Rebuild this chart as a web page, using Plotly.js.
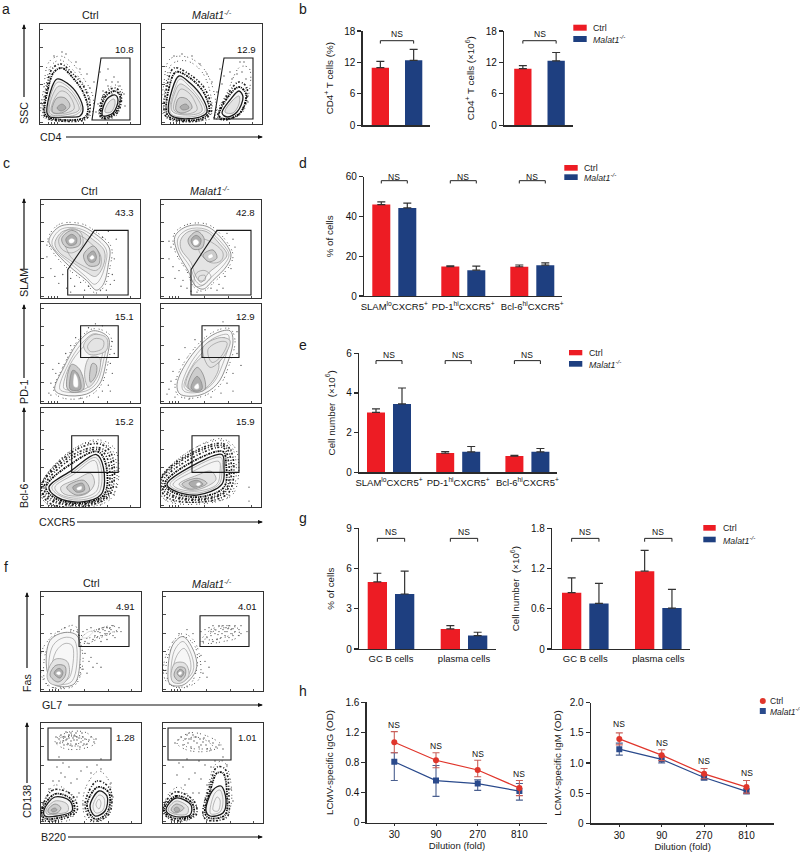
<!DOCTYPE html>
<html><head><meta charset="utf-8">
<script src="https://cdn.plot.ly/plotly-3.0.1.min.js"></script>
<style>html,body{margin:0;padding:0;background:#fff}</style></head>
<body><div id="chart" style="width:800px;height:852px"></div>
<script>
// ---------- values ----------
const groupNames = ['Ctrl', '<i>Malat1<sup>-/-</sup></i>'];
const tfhCats = ['SLAM<sup>lo</sup>CXCR5<sup>+</sup>', 'PD-1<sup>hi</sup>CXCR5<sup>+</sup>', 'Bcl-6<sup>hi</sup>CXCR5<sup>+</sup>'];
const bCellCats = ['GC B cells', 'plasma cells'];
const dilutions = ['30', '90', '270', '810'];

const bPctCtrl = [11.0], bPctCtrlErr = [1.2], bPctKo = [12.4], bPctKoErr = [2.1];
const bNumCtrl = [10.8], bNumCtrlErr = [0.6], bNumKo = [12.3], bNumKoErr = [1.6];
const dCtrl = [46, 14.8, 14.7], dCtrlErr = [1.3, 0.4, 0.9], dKo = [44.3, 13, 15.5], dKoErr = [2.4, 2, 1.2];
const eCtrl = [3.02, 0.97, 0.82], eCtrlErr = [0.18, 0.08, 0.03], eKo = [3.45, 1.03, 1.03], eKoErr = [0.8, 0.27, 0.17];
const gPctCtrl = [5, 1.5], gPctCtrlErr = [0.65, 0.25], gPctKo = [4.1, 1.0], gPctKoErr = [1.7, 0.25];
const gNumCtrl = [0.84, 1.16], gNumCtrlErr = [0.22, 0.31], gNumKo = [0.68, 0.61], gNumKoErr = [0.3, 0.28];

const igGCtrl = [1.07, 0.83, 0.70, 0.46], igGCtrlUp = [0.14, 0.10, 0.13, 0.10], igGCtrlDn = [0.14, 0.10, 0.09, 0.10];
const igGKo = [0.81, 0.56, 0.52, 0.42], igGKoUp = [0.12, 0.20, 0.05, 0.10], igGKoDn = [0.25, 0.21, 0.09, 0.12];
const igGNs = [1.30, 1.02, 0.91, 0.65];
const igMCtrl = [1.40, 1.13, 0.82, 0.60], igMCtrlUp = [0.10, 0.09, 0.09, 0.11], igMCtrlDn = [0.10, 0.09, 0.08, 0.10];
const igMKo = [1.23, 1.06, 0.76, 0.53], igMKoUp = [0.10, 0.06, 0.04, 0.04], igMKoDn = [0.10, 0.06, 0.04, 0.04];
const igMNs = [1.64, 1.34, 1.03, 0.83];

const flowTicksX = [8, 11, 14, 17, 43, 67, 90];
const flowTicksY = [2, 21, 40, 58, 77, 95];

// Flow panels: outlines (x,y in percent of the panel)
const a1Gate = [[61,66],[90,66],[90,4],[52,4]];
const a2Gate = [[62,66],[91,66],[91,5],[52,5]];
const c1Gate = [[54,69],[88,69],[88,3],[27,3],[27,29]];
const c2Gate = [[56,69],[90,69],[90,3],[30,3],[30,29]];
const c3Gate = [[40,78],[78,78],[78,46],[40,46]];
const c4Gate = [[41,78],[78,78],[78,46],[41,46]];
const c5Gate = [[31,72],[78,72],[78,35],[31,35]];
const c6Gate = [[31,72],[78,72],[78,35],[31,35]];
const f1Gate = [[38,76],[88,76],[88,45],[38,45]];
const f2Gate = [[37,76],[86,76],[86,45],[37,45]];
const f3Gate = [[7,95],[70,95],[70,63],[7,63]];
const f4Gate = [[5,95],[68,95],[68,63],[5,63]];

const a1Layers = [
 ['speck',[[3,7],[4,37],[9,62],[20,68],[31,62],[44,45],[53,27],[50,8]]],
 ['speck',[[4,9],[6,38],[11,58],[20,64],[29,58],[42,42],[50,25],[47,8]]],
 ['dense',[[4,9],[7,37],[12,55],[21,60],[31,52],[44,37],[50,18],[46,5],[9,5]]],
 ['rim',[[5,10],[8,35],[14,52],[22,56],[33,46],[43,32],[48,14],[44,6],[10,6]]],
 ['body',[[7,11],[12,37],[17,45],[27,41],[38,29],[43,14],[40,8],[27,7],[10,7]]],
 ['line',[[8,12],[13,35],[18,42],[27,38],[37,26],[41,14],[35,9],[11,8]]],
 ['ring',[[9,13],[14,32],[19,38],[27,35],[36,24],[39,14],[30,10],[12,9]]],
 ['line',[[11,14],[16,28],[21,33],[27,31],[33,22],[34,15],[26,11],[13,11]]],
 ['mid',[[12,14],[17,26],[25,26],[30,18],[24,12],[14,11]]],
 ['core',[[17,16],[22,20],[26,16],[21,13]]],
 ['speck',[[60,7],[63,29],[75,39],[82,34],[80,21],[75,7]]],
 ['dense',[[60,8],[64,29],[75,36],[81,30],[78,12],[64,5]]],
 ['rim',[[61,9],[65,27],[75,33],[80,28],[76,12],[64,6]]],
 ['body',[[62,11],[67,25],[75,29],[78,24],[73,11],[63,8]]],
 ['ring',[[65,12],[69,22],[74,25],[75,20],[71,12]]]
];
const a1Dots = [[63,33],[68,38],[72,42],[78,42],[84,30],[58,20],[56,12],[66,44],[80,38],[74,47],[50,36],[54,42],[47,50],[40,55],[36,62],[22,72],[14,68],[26,70],[60,52],[68,55],[72,30],[85,18]];
const a2Layers = [
 ['speck',[[2,9],[2,41],[8,65],[25,67],[42,55],[53,27],[52,7]]],
 ['speck',[[4,10],[4,40],[10,60],[25,63],[40,52],[49,27],[48,8]]],
 ['dense',[[3,9],[5,38],[12,56],[27,50],[43,35],[49,12],[40,4],[10,4]]],
 ['rim',[[5,10],[7,36],[14,52],[28,46],[42,31],[47,12],[38,5],[12,5]]],
 ['body',[[7,11],[10,34],[17,48],[28,41],[40,27],[45,12],[38,7],[15,6]]],
 ['line',[[8,12],[12,33],[18,45],[27,38],[38,25],[43,13],[34,8],[13,8]]],
 ['ring',[[10,13],[13,32],[18,40],[27,35],[37,23],[40,13],[28,9]]],
 ['line',[[12,14],[15,29],[19,35],[27,31],[33,22],[35,14],[24,10]]],
 ['mid',[[14,14],[17,26],[25,25],[30,16],[20,11]]],
 ['core',[[18,17],[24,20],[27,16],[21,14]]],
 ['speck',[[53,6],[65,31],[78,57],[87,56],[87,31],[78,9]]],
 ['dense',[[56,7],[66,30],[77,42],[85,36],[79,12],[63,4]]],
 ['rim',[[57,8],[66,27],[77,37],[84,30],[78,11],[64,5]]],
 ['body',[[60,11],[68,24],[77,33],[81,27],[75,12],[65,7]]],
 ['ring',[[63,12],[70,23],[77,28],[77,20],[71,11]]]
];
const a2Dots = [[70,45],[75,50],[80,52],[84,45],[60,40],[55,32],[50,42],[45,50],[38,60],[30,68],[20,70],[12,68],[84,36],[68,52],[78,62],[82,62],[62,48],[58,55],[86,22]];
const c1Layers = [
 ['speck',[[7,60],[18,75],[40,76],[55,68],[71,52],[70,33],[64,12],[55,5],[45,16],[27,30],[12,47]]],
 ['soft',[[8,59],[19,73],[39,74],[54,66],[69,51],[68,34],[63,14],[56,8],[46,18],[28,33],[13,49]]],
 ['line',[[11,57],[20,70],[38,71],[53,63],[66,49],[65,34],[59,18],[54,14],[45,22],[29,36],[15,48]]],
 ['ring',[[14,56],[22,68],[38,69],[52,60],[64,48],[63,33],[55,22],[45,27],[30,38],[18,47]]],
 ['line',[[30,42],[44,32],[55,28],[60,32],[60,44],[50,56],[38,64],[24,62]]],
 ['line',[[18,60],[30,71],[40,67],[42,54],[31,46],[21,50]]],
 ['mid',[[21,61],[31,69],[39,64],[39,54],[29,51],[23,54]]],
 ['core',[[25,60],[31,65],[36,61],[35,55],[28,54]]],
 ['hot',[[28,59],[31,61],[34,59],[32,56],[29,56]]],
 ['mid',[[43,44],[53,53],[59,44],[58,34],[48,33]]],
 ['core',[[47,43],[53,48],[56,42],[54,37],[49,37]]],
 ['hot',[[49,41],[52,44],[54,41],[51,39]]]
];
const c1Dots = [[6,42],[10,30],[14,22],[18,15],[22,24],[30,20],[34,12],[38,28],[44,8],[48,12],[26,10],[60,8],[66,8],[72,24],[74,40],[76,60],[62,62],[68,68],[10,58],[6,54],[70,14],[74,18],[30,6],[40,16],[52,14]];
const c2Layers = [
 ['speck',[[13,65],[26,75],[47,75],[63,61],[72,44],[68,32],[53,16],[42,7],[33,11],[26,27],[14,48]]],
 ['soft',[[14,63],[26,73],[46,73],[62,59],[70,44],[66,33],[52,18],[42,9],[34,13],[27,28],[16,48]]],
 ['line',[[17,61],[27,70],[45,70],[60,57],[68,44],[63,34],[50,21],[41,13],[35,17],[29,32],[18,49]]],
 ['ring',[[20,60],[28,68],[45,68],[58,56],[66,44],[60,36],[48,26],[40,16],[34,24],[30,36],[20,50]]],
 ['line',[[34,12],[42,13],[50,22],[44,28],[36,26],[33,18]]],
 ['line',[[38,18],[44,18],[44,23],[38,22]]],
 ['line',[[38,48],[50,36],[60,38],[62,46],[52,56],[40,60]]],
 ['mid',[[27,59],[36,68],[43,61],[41,51],[32,50]]],
 ['core',[[30,59],[35,64],[40,60],[38,53],[33,53]]],
 ['hot',[[32,58],[35,60],[38,57],[36,54],[33,54]]],
 ['mid',[[42,44],[52,49],[56,41],[48,37]]],
 ['hot',[[47,43],[51,45],[52,42],[48,40]]]
];
const c2Dots = [[10,52],[8,40],[12,32],[18,28],[22,18],[26,10],[30,7],[50,10],[58,14],[64,22],[70,30],[74,52],[72,60],[66,66],[14,20],[20,12],[56,8],[8,58],[62,10],[36,6]];
const c3Layers = [
 ['speck',[[13,12],[22,36],[38,64],[53,75],[70,68],[68,42],[60,17],[46,6],[22,5]]],
 ['soft',[[14,13],[23,36],[39,63],[53,73],[68,66],[66,43],[59,19],[46,9],[23,8]]],
 ['line',[[19,14],[27,38],[41,60],[54,70],[65,63],[63,42],[56,20],[45,12],[26,11]]],
 ['line',[[23,15],[29,38],[42,56],[54,66],[62,61],[60,40],[53,22],[44,14],[28,13]]],
 ['mid',[[26,16],[31,39],[39,34],[43,14],[31,11]]],
 ['core',[[29,15],[32,33],[37,30],[40,14],[31,13]]],
 ['hot',[[33,17],[34,30],[37,25],[37,16]]],
 ['ring',[[44,29],[49,46],[59,46],[58,29],[48,16]]],
 ['mid',[[49,27],[52,40],[56,38],[55,27],[50,21]]],
 ['ring',[[43,58],[53,69],[66,66],[66,53],[49,49]]],
 ['line',[[47,57],[54,65],[63,63],[62,55],[50,52]]]
];
const c3Dots = [[10,20],[8,10],[15,30],[18,40],[25,50],[30,58],[35,66],[70,40],[72,30],[68,18],[62,12],[74,50],[72,62],[55,80],[62,78],[48,76],[10,8],[58,6],[70,12],[40,5],[12,34]];
const c4Layers = [
 ['speck',[[14,18],[27,47],[51,71],[69,75],[74,63],[68,38],[58,17],[39,6],[18,7]]],
 ['soft',[[16,19],[29,46],[52,69],[69,73],[72,63],[66,39],[56,19],[39,8],[19,9]]],
 ['line',[[21,18],[32,44],[52,65],[67,69],[68,61],[62,40],[52,20],[38,11],[23,12]]],
 ['line',[[23,17],[34,42],[52,60],[64,66],[65,58],[58,40],[50,22],[38,12],[26,13]]],
 ['ring',[[25,17],[34,40],[50,50],[58,38],[50,20],[38,12]]],
 ['mid',[[27,16],[36,36],[42,29],[44,14],[36,11]]],
 ['core',[[30,15],[36,27],[40,22],[41,14],[35,12]]],
 ['hot',[[33,16],[37,20],[38,15],[35,14]]],
 ['ring',[[42,56],[59,66],[69,63],[62,46],[49,36]]],
 ['line',[[47,54],[59,62],[66,61],[60,47],[51,41]]]
];
const c4Dots = [[10,22],[8,14],[12,32],[18,44],[24,56],[34,64],[44,74],[62,82],[76,72],[76,50],[72,30],[66,20],[60,10],[50,6],[14,6],[28,4],[72,12],[80,38],[6,9]];
const c5Layers = [
 ['speck',[[-1,20],[30,57],[58,66],[73,56],[72,10],[41,-1],[6,3]]],
 ['speck',[[1,24],[28,55],[57,68],[75,58],[74,14],[44,1],[4,5]]],
 ['dense',[[1,22],[29,54],[58,64],[71,54],[70,13],[41,0],[7,5]]],
 ['dense',[[0,20],[31,52],[58,60],[69,52],[68,13],[41,2],[9,7]]],
 ['dense',[[3,20],[31,49],[58,58],[67,49],[66,13],[40,3],[11,8]]],
 ['rim',[[5,20],[31,44],[57,56],[65,45],[64,13],[40,4],[14,9]]],
 ['body',[[8,20],[31,37],[56,53],[63,40],[61,13],[39,5],[16,10]]],
 ['line',[[11,20],[32,35],[55,50],[61,38],[58,14],[38,7],[18,12]]],
 ['line',[[14,20],[33,33],[54,47],[58,36],[56,16],[38,9],[19,13]]],
 ['ring',[[20,20],[36,28],[50,34],[54,24],[47,14],[35,11],[22,14]]],
 ['mid',[[26,20],[43,27],[49,17],[36,12]]],
 ['core',[[32,20],[42,24],[44,17],[36,15]]],
 ['hot',[[36,19],[41,21],[41,18],[37,17]]]
];
const c5Dots = [[6,32],[12,36],[20,44],[26,50],[38,60],[48,64],[70,60],[72,40],[72,25],[74,12],[60,2],[30,1],[3,10],[76,20],[66,62]];
const c6Layers = [
 ['speck',[[-1,27],[29,57],[62,67],[73,56],[70,13],[39,3],[3,8]]],
 ['speck',[[1,30],[28,56],[60,69],[75,58],[72,13],[42,5],[1,10]]],
 ['dense',[[0,29],[29,54],[62,64],[71,54],[68,15],[39,5],[4,11]]],
 ['dense',[[0,27],[29,52],[62,62],[69,52],[66,17],[39,7],[6,13]]],
 ['dense',[[2,26],[30,49],[62,60],[67,49],[65,18],[38,8],[8,14]]],
 ['rim',[[4,24],[30,45],[62,56],[65,44],[63,20],[37,10],[10,16]]],
 ['body',[[6,23],[32,42],[61,53],[63,40],[61,23],[36,12],[12,17]]],
 ['line',[[9,23],[33,40],[60,50],[61,38],[58,23],[36,14],[14,18]]],
 ['line',[[12,23],[34,37],[58,46],[59,36],[56,23],[36,16],[16,19]]],
 ['ring',[[18,23],[36,32],[50,36],[55,28],[44,20],[30,17]]],
 ['mid',[[21,23],[36,29],[46,24],[30,18]]],
 ['core',[[28,24],[36,27],[42,23],[32,20]]],
 ['hot',[[35,23],[38,25],[40,23],[37,21]]]
];
const c6Dots = [[4,34],[10,38],[18,44],[24,50],[34,56],[48,62],[70,58],[72,42],[72,24],[68,12],[50,6],[22,9],[2,18],[88,20],[88,6]];
const f1Layers = [
 ['speck',[[0,38],[8,52],[20,62],[34,66],[38,54],[42,30],[34,6],[14,3],[2,12]]],
 ['speck',[[3,30],[9,48],[22,58],[36,60],[38,40],[38,14],[24,4],[6,6]]],
 ['speck',[[22,58],[40,56],[56,62],[72,66],[76,62],[60,54],[44,48],[34,52]]],
 ['speck',[[38,52],[50,60],[66,64],[72,60],[62,56],[50,54]]],
 ['soft',[[6,21],[9,51],[23,59],[36,56],[39,31],[33,7],[14,6]]],
 ['line',[[8,20],[12,46],[23,54],[33,52],[36,30],[30,9],[14,8]]],
 ['line',[[11,20],[15,40],[24,48],[31,46],[32,28],[27,12],[15,10]]],
 ['ring',[[6,16],[14,32],[26,30],[28,16],[20,6],[9,8]]],
 ['mid',[[9,16],[15,26],[24,25],[24,15],[17,9]]],
 ['core',[[13,18],[18,23],[22,19],[19,13]]],
 ['hot',[[15,18],[18,20],[20,18],[18,16]]],
 ['hot',[[41,54],[48,60],[52,60],[46,54]]]
];
const f1Dots = [[40,52],[44,50],[48,48],[52,52],[56,54],[60,56],[64,58],[68,60],[70,62],[54,60],[58,62],[62,62],[66,64],[72,56],[76,60],[78,64],[50,64],[46,62],[42,60],[60,50],[66,52],[72,66],[80,60],[74,54],[36,60],[30,62],[24,64],[18,60],[14,56],[10,58],[44,38],[48,30],[52,24],[46,18],[42,22],[50,34],[56,28],[60,24],[62,64],[64,61],[57,60],[69,64],[66,58],[59,59],[54,56]];
const f2Layers = [
 ['speck',[[1,28],[10,50],[20,58],[30,52],[36,38],[36,12],[18,3],[3,10]]],
 ['speck',[[3,24],[9,44],[20,55],[32,45],[34,24],[26,6],[8,6]]],
 ['speck',[[38,50],[48,62],[66,66],[76,62],[74,54],[60,50],[46,48]]],
 ['speck',[[42,52],[50,60],[64,64],[72,60],[64,55],[50,52]]],
 ['soft',[[5,21],[10,47],[20,55],[32,37],[33,21],[20,6],[7,7]]],
 ['line',[[8,20],[12,42],[20,50],[29,35],[30,20],[19,9],[10,10]]],
 ['line',[[10,20],[14,36],[21,43],[27,32],[27,19],[18,11],[12,12]]],
 ['ring',[[8,16],[12,28],[22,28],[26,16],[18,8],[10,9]]],
 ['mid',[[11,16],[15,24],[22,23],[22,15],[16,10]]],
 ['core',[[14,18],[17,22],[21,19],[18,14]]],
 ['hot',[[15,18],[18,20],[19,18],[17,16]]]
];
const f2Dots = [[40,50],[44,54],[48,56],[52,58],[56,60],[60,62],[64,60],[68,62],[72,60],[76,62],[50,50],[54,52],[58,54],[62,56],[66,54],[70,56],[42,62],[46,64],[50,66],[56,66],[60,66],[66,66],[72,66],[76,56],[78,66],[38,60],[30,58],[24,62],[16,58],[38,36],[42,30],[46,24],[40,18],[44,14],[62,60],[65,63],[59,58],[55,57],[68,58],[63,64],[70,63],[48,60],[52,62],[78,58],[84,60]];
const f3Layers = [
 ['speck',[[14,82],[28,91],[46,90],[54,80],[40,74],[22,75]]],
 ['speck',[[18,84],[30,88],[42,86],[48,80],[36,77],[24,79]]],
 ['speck',[[22,84],[32,87],[42,83],[36,79],[26,80]]],
 ['speck',[[1,10],[4,24],[14,38],[28,30],[34,18],[30,4],[12,2]]],
 ['speck',[[42,24],[48,42],[58,52],[68,42],[70,18],[62,3],[46,3]]],
 ['dense',[[0,11],[12,33],[31,28],[36,12],[18,3],[2,3]]],
 ['dense',[[44,18],[56,42],[69,34],[68,9],[52,2]]],
 ['rim',[[1,12],[14,29],[30,24],[33,12],[17,5],[3,5]]],
 ['rim',[[46,18],[57,36],[68,30],[66,10],[54,4]]],
 ['body',[[3,13],[14,26],[29,22],[31,12],[16,7],[4,7]]],
 ['ring',[[5,13],[14,22],[26,19],[27,12],[16,9],[6,9]]],
 ['mid',[[7,13],[14,19],[20,15],[16,10],[8,10]]],
 ['core',[[10,13],[14,15],[16,13],[12,11]]],
 ['body',[[49,17],[58,32],[66,27],[64,12],[54,7]]],
 ['line',[[52,17],[58,28],[63,25],[62,13],[55,10]]],
 ['line',[[55,18],[58,24],[60,20],[58,14]]]
];
const f3Dots = [[15,86],[18,84],[20,88],[22,82],[24,86],[26,84],[28,88],[30,82],[32,85],[34,87],[36,83],[38,85],[40,81],[42,86],[44,84],[46,79],[48,83],[50,86],[19,80],[23,78],[27,79],[31,77],[35,79],[39,76],[43,79],[30,90],[25,91],[35,90],[41,90],[16,80],[53,81],[55,84],[22,86],[28,85],[33,83],[36,86],[25,83],[18,42],[20,50],[16,56],[24,46],[22,60],[30,40],[36,44],[40,52],[46,56],[50,50],[56,58],[60,54],[38,30],[42,18],[36,26],[18,66],[60,64],[28,56],[70,40],[72,26],[12,42],[8,34]];
const f4Layers = [
 ['speck',[[14,80],[26,90],[44,87],[58,78],[46,72],[24,73]]],
 ['speck',[[20,82],[32,86],[44,82],[50,76],[36,74],[24,76]]],
 ['speck',[[1,12],[5,28],[16,36],[28,24],[34,14],[26,3],[8,3]]],
 ['speck',[[40,8],[46,40],[52,58],[60,62],[66,50],[68,18],[60,4],[44,3]]],
 ['dense',[[0,12],[12,31],[31,22],[33,8],[10,3]]],
 ['dense',[[40,9],[47,38],[54,56],[62,54],[66,26],[64,6],[44,3]]],
 ['rim',[[1,13],[13,27],[29,20],[30,8],[10,5]]],
 ['rim',[[42,10],[48,35],[54,50],[60,50],[64,28],[62,8],[46,5]]],
 ['body',[[3,13],[13,25],[28,18],[27,8],[10,7]]],
 ['ring',[[5,13],[13,22],[25,16],[24,9],[11,9]]],
 ['mid',[[8,13],[13,19],[21,15],[13,10]]],
 ['core',[[11,14],[14,16],[17,13],[13,11]]],
 ['body',[[43,12],[50,33],[58,37],[63,23],[60,10],[47,7]]],
 ['line',[[47,12],[52,30],[57,33],[60,22],[57,11],[48,9]]],
 ['line',[[50,13],[54,26],[57,23],[55,12]]]
];
const f4Dots = [[15,83],[18,86],[22,84],[25,80],[28,84],[31,82],[34,80],[37,84],[40,81],[43,78],[46,82],[50,80],[53,76],[56,78],[24,88],[30,88],[36,76],[20,78],[28,76],[44,74],[48,73],[60,74],[12,80],[33,86],[38,78],[41,85],[26,84],[14,48],[20,56],[26,44],[32,50],[38,44],[44,38],[22,38],[30,30],[36,30],[16,60],[42,58],[48,56],[36,62],[60,66],[64,58],[66,44],[68,34],[70,22],[24,64],[52,62]];

// ---------- page geometry (pixels, page is 800x852, margins are zero) ----------
const W = 800, H = 852;
const fx = v => v / W, fy = v => 1 - v / H;
const RED = '#ed1c24', BLUE = '#1e3f80', DARK = '#2b2b2b';
const FONT = 'Liberation Sans, Arial, sans-serif';
const traces = [], shapes = [], annotations = [];
const layout = {width: W, height: H, margin: {l: 0, r: 0, t: 0, b: 0}, showlegend: false, barmode: 'overlay',
  paper_bgcolor: '#fff', plot_bgcolor: 'rgba(0,0,0,0)', font: {family: FONT, size: 10, color: '#1a1a1a'}};

const ax = n => n === 1 ? ['x', 'y', 'xaxis', 'yaxis'] : ['x' + n, 'y' + n, 'xaxis' + n, 'yaxis' + n];
const txt = (x, y, text, size, extra) => annotations.push(Object.assign({xref: 'paper', yref: 'paper', x: fx(x), y: fy(y), text, showarrow: false, font: {size: size || 10}, xanchor: 'center', yanchor: 'middle'}, extra || {}));
function arrow(x0, y0, x1, y1) {
  shapes.push({type: 'line', xref: 'paper', yref: 'paper', x0: fx(x0), y0: fy(y0), x1: fx(x1), y1: fy(y1), line: {color: '#111', width: 1.2}});
  const vertical = x0 === x1;
  const pts = vertical ? [[x1, y1 - 1], [x1 - 2, y1 + 4], [x1 + 2, y1 + 4]] : [[x1 + 1, y1], [x1 - 4, y1 - 2], [x1 - 4, y1 + 2]];
  shapes.push({type: 'path', xref: 'paper', yref: 'paper', path: 'M' + pts.map(p => fx(p[0]) + ' ' + fy(p[1])).join(' L') + ' Z', fillcolor: '#111', line: {width: 0}});
}

// ---------- flow panels ----------
const layerStyle = {
  speck: {line: {color: '#555', width: 1, dash: '1px,2px,1px,4px'}},
  dense: {line: {color: '#222', width: 1.6, dash: '1px,1.5px,2px,2px'}},
  rim:   {line: {color: '#0a0a0a', width: 1.8, dash: '2px,0.8px,1px,1px'}},
  body:  {fill: '#f4f4f4', line: {color: '#1a1a1a', width: 1.3}},
  soft:  {fill: '#f7f7f7', line: {color: '#777', width: 0.8}},
  ring:  {fill: '#e4e4e4', line: {color: '#929292', width: 0.7}},
  mid:   {fill: '#cdcdcd', line: {color: '#7c7c7c', width: 0.7}},
  core:  {fill: '#adadad', line: {color: '#7c7c7c', width: 0.6}},
  hot:   {fill: '#ffffff', line: {color: '#bbb', width: 0.5}},
  line:  {line: {color: '#8d8d8d', width: 0.6}}
};
function flowPanel(n, l, t, r, b, layers, dots, gate, label) {
  const [xr, yr, xk, yk] = ax(n);
  const axBase = {range: [0, 100], showline: true, mirror: true, linecolor: '#333', linewidth: 1.2, showgrid: false, zeroline: false, ticks: 'inside', ticklen: 2.5, tickwidth: 0.8, tickcolor: '#222', showticklabels: false, fixedrange: true};
  layout[xk] = Object.assign({}, axBase, {domain: [fx(l), fx(r)], anchor: yr, tickvals: flowTicksX});
  layout[yk] = Object.assign({}, axBase, {domain: [fy(b), fy(t)], anchor: xr, tickvals: flowTicksY});
  traces.push({type: 'scatter', mode: 'markers', x: dots.map(p => p[0]), y: dots.map(p => p[1]), xaxis: xr, yaxis: yr, marker: {size: 1.3, color: '#444'}, hoverinfo: 'skip'});
  layers.forEach(([kind, pts]) => {
    const st = layerStyle[kind], closed = pts.concat([pts[0]]);
    traces.push({type: 'scatter', mode: 'lines', x: closed.map(p => p[0]), y: closed.map(p => p[1]), xaxis: xr, yaxis: yr, hoverinfo: 'skip',
      line: Object.assign({shape: 'spline', smoothing: 1}, st.line), fill: st.fill ? 'toself' : 'none', fillcolor: st.fill});
  });
  shapes.push({type: 'path', xref: xr, yref: yr, path: 'M' + gate.map(p => p[0] + ' ' + p[1]).join(' L') + ' Z', line: {color: '#1a1a1a', width: 1.1}});
  annotations.push({xref: xr, yref: yr, x: 84, y: label[1], text: label[0], showarrow: false, font: {size: 9.6, color: '#111'}});
}
flowPanel(1, 40, 24, 140, 124, a1Layers, a1Dots, a1Gate, ['10.8', 74]);
flowPanel(2, 162, 24, 262, 124, a2Layers, a2Dots, a2Gate, ['12.9', 74]);
flowPanel(3, 41, 200, 140, 298, c1Layers, c1Dots, c1Gate, ['43.3', 87]);
flowPanel(4, 161, 200, 261, 298, c2Layers, c2Dots, c2Gate, ['42.8', 87]);
flowPanel(5, 41, 304, 140, 403, c3Layers, c3Dots, c3Gate, ['15.1', 87]);
flowPanel(6, 161, 304, 261, 403, c4Layers, c4Dots, c4Gate, ['12.9', 87]);
flowPanel(7, 41, 408, 140, 507, c5Layers, c5Dots, c5Gate, ['15.2', 86]);
flowPanel(8, 161, 408, 261, 507, c6Layers, c6Dots, c6Gate, ['15.9', 86]);
flowPanel(9, 41, 592, 141, 691, f1Layers, f1Dots, f1Gate, ['4.91', 85]);
flowPanel(10, 163, 592, 263, 691, f2Layers, f2Dots, f2Gate, ['4.01', 85]);
flowPanel(11, 41, 723, 141, 823, f3Layers, f3Dots, f3Gate, ['1.28', 86]);
flowPanel(12, 163, 723, 263, 823, f4Layers, f4Dots, f4Gate, ['1.01', 86]);

// column titles and flow axis labels
[[90, 212, 15], [89, 210, 191], [91, 212, 583]].forEach(([a, b, y]) => { txt(a, y, groupNames[0], 10.7); txt(b, y, groupNames[1], 10.7); });
[['SSC', 24, 113, 97, 25], ['SLAM', 24, 283, 269, 199], ['PD-1', 24, 392, 378, 305], ['Bcl-6', 24, 496, 482, 408], ['Fas', 27, 683, 668, 593], ['CD138', 27, 802, 783, 723]].forEach(([t, x, y, a0, a1]) => {
  txt(x, y, t, 10.7, {textangle: -90}); arrow(x, a0, x, a1);
});
[['CD4', 50, 137, 66], ['CXCR5', 57, 522, 77], ['GL7', 52, 705, 68], ['B220', 53, 837, 68]].forEach(([t, x, y, a0]) => {
  txt(x, y, t, 10.7); arrow(a0, y, 262, y);
});

// panel letters
[['a', 6, 9], ['b', 303, 9], ['c', 6, 163], ['d', 303, 163], ['e', 303, 345], ['f', 6, 567], ['g', 303, 518], ['h', 303, 691]].forEach(([t, x, y]) => txt(x, y, t, 14));

// ---------- bar panels ----------
function yAxisFor(n, zero, top, range, tickvals, ticktext, title, standoff) {
  const [xr, yr, xk, yk] = ax(n);
  layout[yk] = {domain: [fy(zero), fy(top)], range, anchor: xr, tickvals, ticktext, showline: true, linecolor: DARK, linewidth: 1.4, ticks: 'outside', ticklen: 4, tickwidth: 1.2, tickcolor: DARK, showgrid: false, zeroline: false, tickfont: {size: 10, color: '#111'}, fixedrange: true,
    title: {text: title, font: {size: 9.8}, standoff}};
}
function barPanel(n, g, cats, ctrl, ctrlErr, ko, koErr, range, tickvals, ticktext, title, standoff, br, labelStandoff) {
  const [xr, yr, xk] = ax(n);
  const xs = ctrl.map((_, i) => i);
  layout[xk] = {domain: [fx(g.left), fx(g.right)], range: [(g.left - g.c0) / g.U, (g.right - g.c0) / g.U], anchor: yr, tickvals: xs, ticktext: cats, showline: true, linecolor: DARK, linewidth: 1.4, ticks: '', showgrid: false, zeroline: false, tickangle: 0, showticklabels: !!cats, ticklabelstandoff: labelStandoff || 0, tickfont: {size: 9.5, color: '#111'}, fixedrange: true};
  yAxisFor(n, g.zero, g.top, range, tickvals, ticktext, title, standoff);
  const sep = g.sep / g.U, w = g.w / g.U;
  [[ctrl, ctrlErr, RED, -sep / 2, groupNames[0]], [ko, koErr, BLUE, sep / 2, 'Malat1-/-']].forEach(([vals, err, col, off, name]) => {
    traces.push({type: 'bar', name, x: xs, y: vals, xaxis: xr, yaxis: yr, width: w, offset: off - w / 2, marker: {color: col, line: {width: 0}},
      error_y: {type: 'data', symmetric: false, array: err, arrayminus: err.map(() => 0), color: '#333', thickness: 1.2, width: 4}});
  });
  xs.forEach(i => {
    const a = i - sep / 2, b = i + sep / 2;
    shapes.push({type: 'path', xref: xr, yref: yr, path: `M${a} ${br[1]} L${a} ${br[0]} L${b} ${br[0]} L${b} ${br[1]}`, line: {color: '#222', width: 1}});
    annotations.push({xref: xr, yref: yr, x: i, y: br[2], text: 'NS', showarrow: false, font: {size: 8.5, color: '#111'}});
  });
}
function swatchLegend(x0, x1, y1a, y1b, y2a, y2b, tx) {
  shapes.push({type: 'rect', xref: 'paper', yref: 'paper', x0: fx(x0), x1: fx(x1), y0: fy(y1b), y1: fy(y1a), fillcolor: RED, line: {width: 0}});
  shapes.push({type: 'rect', xref: 'paper', yref: 'paper', x0: fx(x0), x1: fx(x1), y0: fy(y2b), y1: fy(y2a), fillcolor: BLUE, line: {width: 0}});
  txt(tx, (y1a + y1b) / 2, groupNames[0], 8.8, {xanchor: 'left'});
  txt(tx, (y2a + y2b) / 2, groupNames[1], 8.8, {xanchor: 'left'});
}
barPanel(13, {left: 362.7, right: 430, zero: 125.3, top: 31, c0: 397, U: 66.6, sep: 33.3, w: 17.3}, null, bPctCtrl, bPctCtrlErr, bPctKo, bPctKoErr, [0, 18], [0, 6, 12, 18], ['0', '6', '12', '18'], 'CD4<sup>+</sup> T cells (%)', 8, [16.15, 15.6, 17.5]);
barPanel(14, {left: 504.3, right: 573, zero: 125.3, top: 31, c0: 539.5, U: 66.6, sep: 33.3, w: 17.3}, null, bNumCtrl, bNumCtrlErr, bNumKo, bNumKoErr, [0, 18], [0, 6, 12, 18], ['0', '6', '12', '18'], 'CD4<sup>+</sup> T cells (×10<sup>6</sup>)', 9, [16.15, 15.6, 17.5]);
swatchLegend(573.3, 586.7, 24.7, 30.7, 36, 42, 591);
barPanel(15, {left: 364.3, right: 562.3, zero: 296, top: 176.7, c0: 394.3, U: 69, sep: 26, w: 18}, tfhCats, dCtrl, dCtrlErr, dKo, dKoErr, [0, 60], [0, 20, 40, 60], ['0', '20', '40', '60'], '% of cells', 10, [58, 56.6, 60], 1);
swatchLegend(564.3, 577.7, 165, 170.7, 174.3, 180, 581.7);
barPanel(16, {left: 359.3, right: 557.3, zero: 472.3, top: 353.3, c0: 389, U: 69.2, sep: 26, w: 18}, tfhCats, eCtrl, eCtrlErr, eKo, eKoErr, [0, 6], [0, 2, 4, 6], ['0', '2', '4', '6'], 'Cell number  (×10<sup>6</sup>)', 9, [5.63, 5.46, 5.9], 1);
swatchLegend(569, 582.3, 350, 355.3, 361, 366.7, 586.7);
barPanel(17, {left: 359.3, right: 496, zero: 649, top: 528.3, c0: 391, U: 73, sep: 27.3, w: 19.3}, bCellCats, gPctCtrl, gPctCtrlErr, gPctKo, gPctKoErr, [0, 9], [0, 3, 6, 9], ['0', '3', '6', '9'], '% of cells', 10, [8.25, 8.0, 8.7]);
barPanel(18, {left: 552.3, right: 690, zero: 649, top: 528.3, c0: 585.3, U: 73, sep: 27.3, w: 19.3}, bCellCats, gNumCtrl, gNumCtrlErr, gNumKo, gNumKoErr, [0, 1.8], [0, 0.6, 1.2, 1.8], ['0', '0.6', '1.2', '1.8'], 'Cell number  (×10<sup>6</sup>)', 9, [1.65, 1.6, 1.74]);
swatchLegend(703.3, 715.7, 525, 530.7, 536.7, 542.3, 720.7);

// ---------- ELISA line panels ----------
function linePanel(n, g, ctrl, cUp, cDn, ko, kUp, kDn, ns, range, tickvals, ticktext, title, standoff) {
  const [xr, yr, xk] = ax(n);
  const xs = dilutions.map((_, i) => i);
  layout[xk] = {domain: [fx(g.left), fx(g.right)], range: [(g.left - g.c0) / g.U, (g.right - g.c0) / g.U], anchor: yr, tickvals: xs, ticktext: dilutions, showline: true, linecolor: DARK, linewidth: 1.4, ticks: 'outside', ticklen: 2, tickwidth: 1, tickcolor: DARK, showgrid: false, zeroline: false, tickangle: 0, tickfont: {size: 10, color: '#111'}, fixedrange: true,
    title: {text: 'Dilution (fold)', font: {size: 9.6}, standoff: 3}};
  yAxisFor(n, g.zero, g.top, range, tickvals, ticktext, title, standoff);
  [[ko, kUp, kDn, '#2a4a8c', 'square', '#4a5f8f', 'Malat1-/-'], [ctrl, cUp, cDn, '#e0352b', 'circle', '#c9605a', 'Ctrl']].forEach(([v, up, dn, col, sym, ecol, name]) => {
    traces.push({type: 'scatter', mode: 'lines+markers', name, x: xs, y: v, xaxis: xr, yaxis: yr, line: {color: col, width: 1.2}, marker: {color: col, symbol: sym, size: 6},
      error_y: {type: 'data', symmetric: false, array: up, arrayminus: dn, color: ecol, thickness: 1.1, width: 3.5}});
  });
  xs.forEach(i => annotations.push({xref: xr, yref: yr, x: i, y: ns[i], text: 'NS', showarrow: false, font: {size: 8.5, color: '#111'}}));
}
linePanel(19, {left: 366.7, right: 547.3, zero: 822.7, top: 702.3, c0: 394.3, U: 41.7}, igGCtrl, igGCtrlUp, igGCtrlDn, igGKo, igGKoUp, igGKoDn, igGNs, [0, 1.6], [0, 0.4, 0.8, 1.2, 1.6], ['0', '0.4', '0.8', '1.2', '1.6'], 'LCMV-specific IgG (OD)', 10);
linePanel(20, {left: 591, right: 774.3, zero: 823.3, top: 702.7, c0: 619.3, U: 42.4}, igMCtrl, igMCtrlUp, igMCtrlDn, igMKo, igMKoUp, igMKoDn, igMNs, [0, 2], [0, 0.5, 1, 1.5, 2], ['0', '0.5', '1.0', '1.5', '2.0'], 'LCMV-specific IgM (OD)', 6);
// line legend
shapes.push({type: 'circle', xref: 'paper', yref: 'paper', x0: fx(759.8), x1: fx(765.8), y0: fy(704), y1: fy(698), fillcolor: '#e0352b', line: {width: 0}});
shapes.push({type: 'rect', xref: 'paper', yref: 'paper', x0: fx(759.8), x1: fx(765.8), y0: fy(714), y1: fy(708), fillcolor: '#2a4a8c', line: {width: 0}});
txt(768, 701, groupNames[0], 8.5, {xanchor: 'left'});
txt(768, 711, groupNames[1], 8.5, {xanchor: 'left'});

layout.shapes = shapes; layout.annotations = annotations;
Plotly.newPlot('chart', traces, layout, {staticPlot: true, displayModeBar: false});
</script></body></html>
